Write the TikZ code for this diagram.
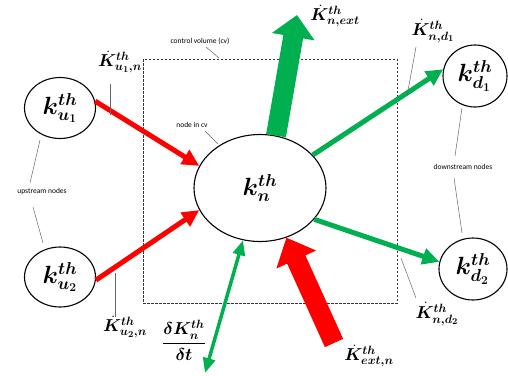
\documentclass[tikz,border=0pt]{standalone}
\usepackage{amsmath,bm}
\usepackage{fontspec}
\newfontfamily\smallfont{Carlito}
\usetikzlibrary{shapes.geometric,arrows.meta}
\definecolor{fgreen}{RGB}{0,176,80}
\definecolor{fred}{RGB}{255,0,0}
\tikzset{
  knode/.style={draw=black,line width=1.1pt,ellipse,inner sep=0pt,font=\fontsize{25}{28}\selectfont},
  flux/.style={font=\fontsize{18}{21}\selectfont,inner sep=0pt},
  small/.style={font=\smallfont\fontsize{7.5}{9}\selectfont,inner sep=0pt},
  leader/.style={draw=gray!80!black,line width=0.5pt},
  thinred/.style={draw=fred,line width=5pt,-{Triangle[width=16pt,length=17pt]}},
  thingreen/.style={draw=fgreen,line width=5pt,-{Triangle[width=16pt,length=17pt]}},
}
\begin{document}
\begin{tikzpicture}[x=1pt,y=-1pt]
\useasboundingbox (0,0) rectangle (508,375);
% control volume
\draw[line width=0.6pt,dash pattern=on 2.5pt off 1.5pt,black!80] (143,59) rectangle (397,303);
% nodes
\node[knode,minimum width=132pt,minimum height=107pt] (n) at (260,188) {$\bm{k^{th}_{n}}$};
\node[knode,minimum width=71pt,minimum height=61pt] (u1) at (60,108) {$\bm{k^{th}_{u_1}}$};
\node[knode,minimum width=71pt,minimum height=60pt] (u2) at (60,277) {$\bm{k^{th}_{u_2}}$};
\node[knode,minimum width=64pt,minimum height=62pt] (d1) at (475,76) {$\bm{k^{th}_{d_1}}$};
\node[knode,minimum width=68pt,minimum height=62pt] (d2) at (473,269) {$\bm{k^{th}_{d_2}}$};
% free ends
\coordinate (extout) at (297,15);
\coordinate (extin) at (334,343);
\coordinate (dt) at (205,373);
% big arrows
\draw[draw=fgreen,line width=20pt,-{Triangle[width=42pt,length=22pt]}] (n.73) -- (extout);
\draw[draw=fred,line width=20pt,-{Triangle[width=42pt,length=24pt]}] (extin) -- (n.298);
% thin arrows
\draw[thinred] (u1.11) -- (n.160);
\draw[thinred] (u2.355) -- (n.200);
\draw[thingreen] (n.32) -- (d1.168);
\draw[thingreen] (n.330) -- (d2.168);
\draw[draw=fgreen,line width=3.5pt,{Triangle[width=12pt,length=15pt]}-{Triangle[width=12pt,length=15pt]}] (n.252) -- (dt);
% flux labels
\node[flux] (lu1) at (120,62) {$\bm{\dot K^{th}_{u_1,n}}$};
\node[flux] (lu2) at (125,327) {$\bm{\dot K^{th}_{u_2,n}}$};
\node[flux] (lext) at (335,16) {$\bm{\dot K^{th}_{n,ext}}$};
\node[flux] (ld1) at (433,31) {$\bm{\dot K^{th}_{n,d_1}}$};
\node[flux] (ld2) at (437,314) {$\bm{\dot K^{th}_{n,d_2}}$};
\node[flux] (lin) at (369,356) {$\bm{\dot K^{th}_{ext,n}}$};
\node[flux] (ldt) at (184,340) {$\bm{\dfrac{\delta K^{th}_n}{\delta t}}$};
% small labels
\node[small] (cv) at (200,41) {control volume (cv)};
\node[small] (ncv) at (192,125) {node in cv};
\node[small] (up) at (42,191) {upstream nodes};
\node[small] (down) at (463,167) {downstream nodes};
% leader lines
\coordinate (cva) at (219,58);
\draw[leader] (206,47) -- (cva);
\draw[leader] (205,131) -- (218,144);
\draw[leader] (110,84) -- (110,115);
\draw[leader] (115,273) -- (115,317);
\draw[leader] (416,47) -- (407,96);
\draw[leader] (401,258) -- (416,298);
\draw[leader] (462,108) -- (455,156);
\draw[leader] (454,178) -- (462,233);
\draw[leader] (40,140) -- (30,183);
\draw[leader] (33,207) -- (43,243);
\end{tikzpicture}
\end{document}
